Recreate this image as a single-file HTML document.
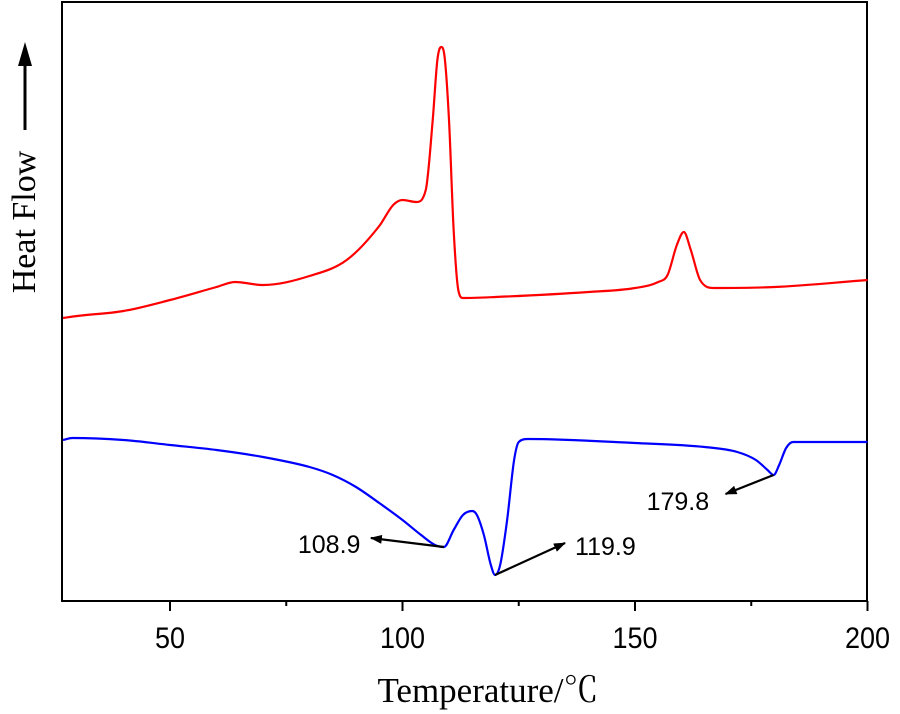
<!DOCTYPE html>
<html><head><meta charset="utf-8"><style>
body{margin:0;background:#fff}
svg{display:block}
text{font-family:"Liberation Sans",sans-serif}
.serif{font-family:"Liberation Serif","Noto Serif CJK SC",serif}
</style></head><body>
<svg id="chart" width="900" height="714">
<defs><marker id="ah" markerWidth="12" markerHeight="9" refX="11" refY="4.5" orient="auto" markerUnits="userSpaceOnUse"><path d="M0,0 L12,4.5 L0,9 Z" fill="#000"/></marker></defs>
<rect x="62" y="2" width="805" height="599" fill="none" stroke="#000" stroke-width="2"/>
<g id="xticks"></g>
<g id="series"></g>
<g id="ann"></g>
<text x="488" y="702" text-anchor="middle" font-size="35" class="serif">Temperature/℃</text>
<text transform="translate(35,222) rotate(-90)" text-anchor="middle" font-size="34" class="serif">Heat Flow</text>
<line x1="25" y1="130" x2="25" y2="62" stroke="#000" stroke-width="3"/>
<path d="M18,66 L25,42 L32,66 Z" fill="#000"/>
</svg>
<script>
const xTicks=[50,100,150,200];
const xMinor=[75,125,175];
const redT=[27,30,40,50,60,64,70,80,88,95,98,100,103,105,106.5,107.5,108.3,109,110,111,112,113,120,140,150,155,157,159,160.5,162,164,167,180,200];
const redV=[283,285,290,301,314,319,316,325,341,375,396,401,399,411,481,541,554,546,481,371,311,303,304,309,313,319,326,356,369,351,321,313,314,321];
const blueT=[27,29,40,50,60,70,80,85,90,95,100,104,107,108.9,111,113,115,116,117.5,119,119.9,121,122.5,124,125,127,150,165,172,176,178.5,179.8,181,182.5,184,200];
const blueV=[161,163,161,156,151,144,134,126,114,98,81,66,56,54,71,86,90,86,66,36,26,36,81,141,159,162,158,154,149,141,131,126,136,153,159,159];
const annLabels=["108.9","119.9","179.8"];
const annT=[108.9,119.9,179.8];
const annV=[54,26,126];

const NS="http://www.w3.org/2000/svg";
const xS=t=>170+(t-50)*4.65;
const yS=v=>601-v;
function mk(tag,attrs,parent){const e=document.createElementNS(NS,tag);for(const k in attrs)e.setAttribute(k,attrs[k]);parent.appendChild(e);return e;}
const gx=document.getElementById('xticks');
xTicks.forEach(t=>{
  const l=mk('line',{x1:xS(t),x2:xS(t),y1:601,y2:611,stroke:'#000','stroke-width':2},gx);
  
  
  const tx=mk('text',{x:xS(t),y:648,'text-anchor':'middle','font-size':30,transform:`translate(${xS(t)*0.1},0) scale(0.9,1)`},gx);
  tx.textContent=t;
  
  
});
xMinor.forEach(t=>{
  const l=mk('line',{x1:xS(t),x2:xS(t),y1:601,y2:606,stroke:'#000','stroke-width':2},gx);
  
  
});
function path(T,V){
  const x=T.map(xS),y=V.map(yS),n=x.length;
  const d=[],m=new Array(n);
  for(let i=0;i<n-1;i++)d.push((y[i+1]-y[i])/(x[i+1]-x[i]));
  m[0]=d[0];m[n-1]=d[n-2];
  for(let i=1;i<n-1;i++){m[i]=(d[i-1]*d[i]<=0)?0:(d[i-1]+d[i])/2;}
  for(let i=0;i<n-1;i++){
    if(d[i]===0){m[i]=0;m[i+1]=0;continue;}
    const a=m[i]/d[i],b=m[i+1]/d[i],s=a*a+b*b;
    if(s>9){const t=3/Math.sqrt(s);m[i]=t*a*d[i];m[i+1]=t*b*d[i];}
  }
  let p='M'+x[0]+','+y[0];
  for(let i=0;i<n-1;i++){
    const h=(x[i+1]-x[i])/3;
    p+=` C${x[i]+h},${y[i]+m[i]*h} ${x[i+1]-h},${y[i+1]-m[i+1]*h} ${x[i+1]},${y[i+1]}`;
  }
  return p;
}
const gs=document.getElementById('series');
const r=mk('path',{d:path(redT,redV),fill:'none',stroke:'#f00','stroke-width':2.2},gs);


const b=mk('path',{d:path(blueT,blueV),fill:'none',stroke:'#00f','stroke-width':2.2},gs);


const ga=document.getElementById('ann');
const off=[[-73,-9],[70,-32],[-48,19]];
const txtPos=[[-146,6],[80,-20],[-127,35]];
annT.forEach((t,i)=>{
  const x0=xS(t),y0=yS(annV[i]);
  const a=mk('line',{x1:x0,y1:y0,x2:x0+off[i][0],y2:y0+off[i][1],stroke:'#000','stroke-width':2.2,'marker-end':'url(#ah)'},ga);
  
  
  const tx=mk('text',{x:x0+txtPos[i][0],y:y0+txtPos[i][1],'font-size':25},ga);
  tx.textContent=annLabels[i];
  
  
});
</script>
</body></html>
